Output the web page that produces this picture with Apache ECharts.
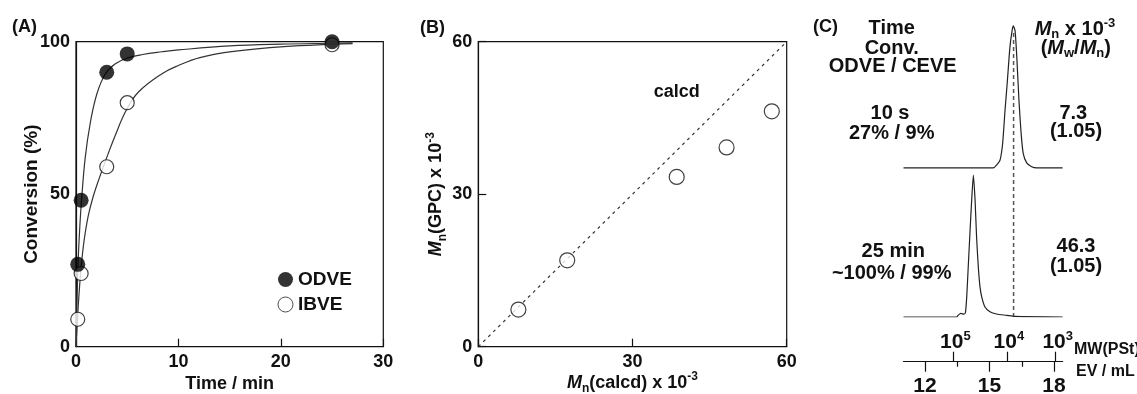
<!DOCTYPE html>
<html><head><meta charset="utf-8">
<script src="https://cdn.jsdelivr.net/npm/echarts@6/dist/echarts.min.js"></script>
<style>html,body{margin:0;padding:0;background:#fff}#c{width:1137px;height:394px}</style>
</head><body><div id="c"></div>
<script>
// ---------- Panel A: conversion vs time ----------
const timeODVE = [0.17, 0.5, 3, 5, 25];
const convODVE = [27, 48, 90, 96, 100];
const timeIBVE = [0.17, 0.5, 3, 5, 25];
const convIBVE = [9, 24, 59, 80, 99];
// fitted curves
const fitTimeODVE = [0, 0.08, 0.2, 0.35, 0.52, 0.9, 1.4, 2.05, 2.87, 3.84, 4.98, 6.5, 8.4, 10, 15, 20, 25, 27];
const fitConvODVE = [0, 12, 27, 38, 47, 62, 73.5, 83, 89.5, 92.8, 94.6, 95.8, 96.7, 97.3, 98.6, 99.2, 99.5, 99.6];
const fitTimeIBVE = [0, 0.1, 0.25, 0.5, 0.8, 1.2, 1.7, 2.3, 3.0, 3.8, 4.9, 6.1, 8.4, 10, 12.1, 15.4, 20.3, 25.2, 27];
const fitConvIBVE = [0, 6, 15, 26, 35, 43, 49.5, 55.5, 62, 69, 77.5, 83.5, 89.5, 92.2, 94.8, 96.8, 98.4, 99.2, 99.4];
const xTicksA = [0, 10, 20, 30];
const yTicksA = [0, 50, 100];

// ---------- Panel B: Mn(GPC) vs Mn(calcd) ----------
const mnCalcd = [7.8, 17.3, 38.6, 48.3, 57.1];
const mnGPC = [7.3, 17.0, 33.4, 39.2, 46.3];
const calcdX = [0, 60];
const calcdY = [0, 60];
const ticksB = [0, 30, 60];

// ---------- Panel C: GPC traces ----------
const evTop = [11.0, 15.18, 15.33, 15.49, 15.61, 15.72, 15.83, 15.95, 16.06, 16.11, 16.19, 16.27, 16.37, 16.47, 16.57, 16.73, 16.96, 17.2, 18.4];
const sigTop = [0, 0, 0.02, 0.055, 0.17, 0.40, 0.61, 0.85, 0.975, 1.0, 0.965, 0.78, 0.475, 0.245, 0.10, 0.035, 0.008, 0, 0];
const evBottom = [11.0, 13.47, 13.56, 13.67, 13.81, 13.88, 13.94, 14.01, 14.09, 14.17, 14.25, 14.33, 14.40, 14.48, 14.56, 14.64, 14.79, 15.02, 15.33, 15.80, 16.19, 18.4];
const sigBottom = [0, 0, 0.015, 0.025, 0.02, 0.03, 0.14, 0.35, 0.59, 0.82, 1.0, 0.82, 0.56, 0.35, 0.21, 0.14, 0.07, 0.037, 0.021, 0.012, 0.004, 0];
const evTicks = [12, 15, 18];
const evMinorTicks = [13.5, 16.5];
const mwTickEV = [13.32, 15.81, 18.08];
const mwTickExp = ['5', '4', '3'];
const mnPeakEV = 16.12;

const FF = '"Liberation Sans", Arial, Helvetica, sans-serif';
const INK = '#111';
const zip = (a, b) => a.map((v, i) => [v, b[i]]);
const TOP_OFFSET = 1.05;

const axisLine = { lineStyle: { color: INK, width: 1.2 } };
const lbl = (extra) => Object.assign({ fontFamily: FF, fontWeight: 'bold', fontSize: 18, color: INK }, extra || {});
const richBase = {
  i: { fontFamily: FF, fontWeight: 'bold', fontStyle: 'italic', fontSize: 18, color: INK, lineHeight: 24 },
  t: { fontFamily: FF, fontWeight: 'bold', fontSize: 18, color: INK, lineHeight: 24 },
  s: { fontFamily: FF, fontWeight: 'bold', fontSize: 12, color: INK, verticalAlign: 'bottom', lineHeight: 14 },
  p: { fontFamily: FF, fontWeight: 'bold', fontSize: 12, color: INK, verticalAlign: 'top', lineHeight: 14 }
};

const chart = echarts.init(document.getElementById('c'), null, { renderer: 'canvas' });

function txt(x, y, text, extra) {
  return { type: 'text', x: x, y: y, silent: true,
    style: Object.assign({ text: text, fontFamily: FF, fontWeight: 'bold', fontSize: 20, fill: INK, align: 'center', verticalAlign: 'middle' }, extra || {}) };
}
const richC = {
  i: { fontFamily: FF, fontWeight: 'bold', fontStyle: 'italic', fontSize: 20, fill: INK, lineHeight: 24 },
  t: { fontFamily: FF, fontWeight: 'bold', fontSize: 20, fill: INK, lineHeight: 24 },
  s: { fontFamily: FF, fontWeight: 'bold', fontSize: 13, fill: INK, verticalAlign: 'bottom', lineHeight: 14 },
  p: { fontFamily: FF, fontWeight: 'bold', fontSize: 13, fill: INK, verticalAlign: 'top', lineHeight: 14 }
};

const option = {
  animation: false,
  backgroundColor: '#fff',
  grid: [
    { left: 76, top: 41.7, width: 307.3, height: 305, outerBoundsMode: 'none', containLabel: false,
      show: true, borderColor: INK, borderWidth: 1.2, backgroundColor: 'transparent' },
    { left: 478.3, top: 41.7, width: 308.4, height: 305, outerBoundsMode: 'none', containLabel: false,
      show: true, borderColor: INK, borderWidth: 1.2, backgroundColor: 'transparent' },
    { left: 903.5, top: 25, width: 159.1, height: 292, outerBoundsMode: 'none', containLabel: false }
  ],
  xAxis: [
    { gridIndex: 0, type: 'value', min: xTicksA[0], max: xTicksA[xTicksA.length - 1], interval: 10,
      axisLine: axisLine, axisTick: { inside: true, length: 8, lineStyle: { color: INK, width: 1.2 } },
      splitLine: { show: false }, axisLabel: lbl({ margin: 6 }),
      name: 'Time / min', nameLocation: 'middle', nameGap: 28, nameMoveOverlap: false, nameTextStyle: lbl() },
    { gridIndex: 1, type: 'value', min: ticksB[0], max: ticksB[2], interval: 30,
      axisLine: axisLine, axisTick: { inside: true, length: 8, lineStyle: { color: INK, width: 1.2 } },
      splitLine: { show: false }, axisLabel: lbl({ margin: 6 }),
      name: '{i|M}{s|n}{t|(calcd) x 10}{p|-3}', nameLocation: 'middle', nameGap: 24, nameMoveOverlap: false,
      nameTextStyle: lbl({ rich: richBase }) },
    { gridIndex: 2, type: 'value', min: 11, max: 18.4, show: false },
    { gridIndex: 2, type: 'value', min: 11, max: 18.4, position: 'bottom', offset: 44.7,
      axisLine: { show: true, onZero: false, lineStyle: { color: INK, width: 1.2 } },
      axisTick: { show: true, inside: false, length: 10, customValues: evTicks, lineStyle: { color: INK, width: 1.2 } },
      axisLabel: lbl({ fontSize: 21, margin: 14, customValues: evTicks }),
      splitLine: { show: false } },
    { gridIndex: 2, type: 'value', min: 11, max: 18.4, position: 'bottom', offset: 44.7,
      axisLine: { show: false, onZero: false },
      axisTick: { show: true, inside: false, length: 5, customValues: evMinorTicks, lineStyle: { color: INK, width: 1.2 } },
      axisLabel: { show: false }, splitLine: { show: false } },
    { gridIndex: 2, type: 'value', min: 11, max: 18.4, position: 'bottom', offset: 44.7,
      axisLine: { show: false, onZero: false },
      axisTick: { show: true, inside: true, length: 10, customValues: mwTickEV, lineStyle: { color: INK, width: 1.2 } },
      axisLabel: { show: true, inside: true, margin: 6, customValues: mwTickEV, padding: [0, 0, 0, 4],
        formatter: function (v) {
          let k = 0, best = 1e9;
          mwTickEV.forEach((t, i) => { if (Math.abs(t - v) < best) { best = Math.abs(t - v); k = i; } });
          return '{b|10}{e|' + mwTickExp[k] + '}';
        },
        rich: {
          b: { fontFamily: FF, fontWeight: 'bold', fontSize: 21, color: INK, lineHeight: 26 },
          e: { fontFamily: FF, fontWeight: 'bold', fontSize: 13, color: INK, verticalAlign: 'top', lineHeight: 16 }
        } },
      splitLine: { show: false } }
  ],
  yAxis: [
    { gridIndex: 0, type: 'value', min: yTicksA[0], max: yTicksA[2], interval: 50,
      axisLine: axisLine, axisTick: { show: false }, splitLine: { show: false },
      axisLabel: lbl({ margin: 6 }),
      name: 'Conversion (%)', nameLocation: 'middle', nameGap: 35, nameMoveOverlap: false, nameTextStyle: lbl({ fontSize: 19 }) },
    { gridIndex: 1, type: 'value', min: ticksB[0], max: ticksB[2], interval: 30,
      axisLine: axisLine, axisTick: { inside: true, length: 8, lineStyle: { color: INK, width: 1.2 } },
      splitLine: { show: false }, axisLabel: lbl({ margin: 6 }),
      name: '{i|M}{s|n}{t|(GPC) x 10}{p|-3}', nameLocation: 'middle', nameGap: 30, nameMoveOverlap: false,
      nameTextStyle: lbl({ rich: richBase }) },
    { gridIndex: 2, type: 'value', min: 0, max: 2.056, show: false }
  ],
  legend: {
    left: 277.5, top: 270, padding: 0, orient: 'vertical', itemWidth: 15, itemHeight: 15, itemGap: 6,
    textStyle: { fontFamily: FF, fontWeight: 'bold', fontSize: 19, color: INK },
    selectedMode: false,
    data: [
      { name: 'ODVE', itemStyle: { color: '#000', borderWidth: 0 } },
      { name: 'IBVE', itemStyle: { color: '#fff', borderColor: '#222', borderWidth: 1 } }
    ]
  },
  series: [
    { type: 'line', xAxisIndex: 0, yAxisIndex: 0, data: zip(fitTimeODVE, fitConvODVE), smooth: 0.4,
      showSymbol: false, symbol: 'none', lineStyle: { color: '#333', width: 1.2 }, silent: true, z: 2 },
    { type: 'line', xAxisIndex: 0, yAxisIndex: 0, data: zip(fitTimeIBVE, fitConvIBVE), smooth: 0.4,
      showSymbol: false, symbol: 'none', lineStyle: { color: '#333', width: 1.2 }, silent: true, z: 2 },
    { name: 'IBVE', type: 'scatter', xAxisIndex: 0, yAxisIndex: 0, data: zip(timeIBVE, convIBVE),
      symbol: 'circle', symbolSize: 14, clip: false, z: 4,
      itemStyle: { color: '#fff', borderColor: INK, borderWidth: 1.2 } },
    { name: 'ODVE', type: 'scatter', xAxisIndex: 0, yAxisIndex: 0, data: zip(timeODVE, convODVE),
      symbol: 'circle', symbolSize: 15, clip: false, z: 5,
      itemStyle: { color: '#000', borderColor: '#000', borderWidth: 0 } },

    { type: 'line', xAxisIndex: 1, yAxisIndex: 1, data: zip(calcdX, calcdY), symbol: 'none',
      lineStyle: { color: '#333', width: 1.2, type: [3, 4] }, silent: true, z: 2 },
    { type: 'scatter', xAxisIndex: 1, yAxisIndex: 1, data: zip(mnCalcd, mnGPC), symbol: 'circle', symbolSize: 15,
      clip: false, z: 4, itemStyle: { color: '#fff', borderColor: INK, borderWidth: 1.2 } },

    { type: 'line', xAxisIndex: 2, yAxisIndex: 2, data: evTop.map((v, i) => [v, sigTop[i] + TOP_OFFSET]),
      symbol: 'none', smooth: 0.2, lineStyle: { color: '#222', width: 1.2 }, silent: true, z: 3 },
    { type: 'line', xAxisIndex: 2, yAxisIndex: 2, data: zip(evBottom, sigBottom),
      symbol: 'none', smooth: 0.2, lineStyle: { color: '#222', width: 1.2 }, silent: true, z: 3 },
    { type: 'line', xAxisIndex: 2, yAxisIndex: 2, data: [[mnPeakEV, 0], [mnPeakEV, TOP_OFFSET + 0.97]],
      symbol: 'none', lineStyle: { color: '#555', width: 1.5, type: [4, 3] }, silent: true, z: 2 }
  ],
  graphic: [
    txt(24.5, 27.5, '(A)', { fontSize: 18 }),
    txt(432.5, 28, '(B)', { fontSize: 18 }),
    txt(825.5, 26.7, '(C)', { fontSize: 18 }),
    txt(676.7, 91.7, 'calcd', { fontSize: 18 }),
    txt(891.7, 28.3, 'Time'),
    txt(891.7, 48.3, 'Conv.'),
    txt(892.7, 66.7, 'ODVE / CEVE'),
    txt(890, 113.3, '10 s'),
    txt(891.7, 133.3, '27% / 9%'),
    txt(893.3, 251.7, '25 min'),
    txt(891.7, 273.3, '~100% / 99%'),
    txt(1075, 29, '{i|M}{s|n}{t| x 10}{p|-3}', { rich: richC }),
    txt(1075.8, 48.3, '{t|(}{i|M}{s|w}{t|/}{i|M}{s|n}{t|)}', { rich: richC }),
    txt(1073.3, 113.3, '7.3'),
    txt(1076, 131.7, '(1.05)'),
    txt(1076, 246.7, '46.3'),
    txt(1076, 266, '(1.05)'),
    txt(1074, 350, 'MW(PSt)', { fontSize: 16, align: 'left' }),
    txt(1076, 371.7, 'EV / mL', { fontSize: 16, align: 'left' })
  ]
};
chart.setOption(option);
</script></body></html>
